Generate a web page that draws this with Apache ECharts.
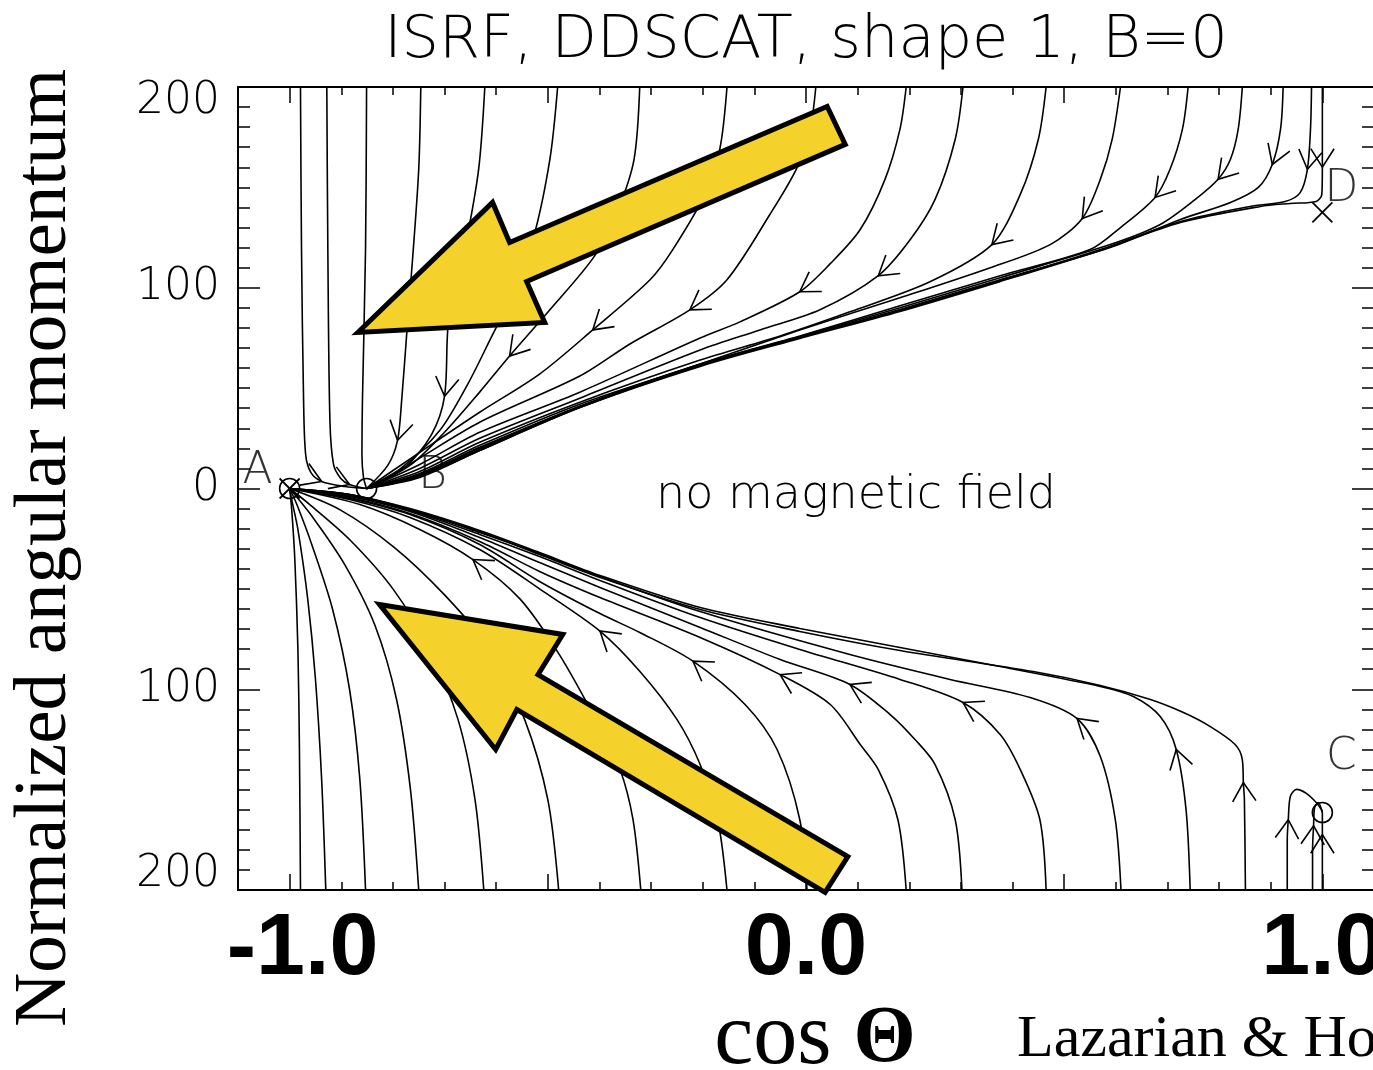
<!DOCTYPE html>
<html>
<head>
<meta charset="utf-8">
<script src="https://cdn.jsdelivr.net/npm/echarts@6/dist/echarts.min.js"></script>
<style>
  html, body { margin: 0; padding: 0; background: #fff; }
  #chart { width: 1373px; height: 1070px; }
</style>
</head>
<body>
<div id="chart"></div>
<script>
// Trajectories in the (cos Theta, normalised J) plane, listed in the direction of motion.
// Upper branch: J > 0, all flowing into the attractor point B.
const trajUp01 = [[-0.979,200],[-0.977,119],[-0.973,44],[-0.969,17],[-0.959,8],[-0.938,3.5],[-0.893,1],[-0.851,0]];
const trajUp02 = [[-0.928,200],[-0.926,119],[-0.922,34],[-0.915,12],[-0.901,5],[-0.884,2],[-0.851,0]];
const trajUp03 = [[-0.851,200],[-0.853,119],[-0.859,44],[-0.860,17],[-0.857,5.5],[-0.851,0]];
const trajUp04 = [[-0.746,200],[-0.750,159],[-0.762,114],[-0.773,78],[-0.783,44],[-0.791,24],[-0.810,11.5],[-0.851,0]];
const trajUp05 = [[-0.622,200],[-0.634,159],[-0.661,119],[-0.692,84],[-0.700,46],[-0.725,27],[-0.777,10.5],[-0.851,0]];
const trajUp06 = [[-0.481,200],[-0.496,164],[-0.529,124],[-0.574,94],[-0.612,74],[-0.655,52],[-0.709,29],[-0.787,9.5],[-0.851,0]];
const trajUp07 = [[-0.322,200],[-0.333,164],[-0.364,139],[-0.409,116],[-0.496,89],[-0.574,66],[-0.632,48],[-0.700,28],[-0.767,11.5],[-0.851,0]];
const trajUp08 = [[-0.153,200],[-0.167,169],[-0.196,146.5],[-0.258,119],[-0.302,104],[-0.413,79],[-0.516,57],[-0.632,38],[-0.748,18],[-0.851,0]];
const trajUp09 = [[0.019,200],[0.008,179],[-0.017,160],[-0.070,136.5],[-0.153,104],[-0.225,89],[-0.341,72],[-0.438,56],[-0.632,33],[-0.762,13],[-0.851,0]];
const trajUp10 = [[0.194,200],[0.182,179],[0.153,154],[0.105,129],[0.047,112],[-0.012,98],[-0.128,83],[-0.205,75],[-0.438,48],[-0.632,28],[-0.748,12],[-0.851,0]];
const trajUp11 = [[0.304,200],[0.289,174],[0.250,144],[0.202,124],[0.140,106],[0.027,89],[-0.089,79],[-0.205,69],[-0.438,45],[-0.632,25],[-0.748,10],[-0.851,0]];
const trajUp12 = [[0.465,200],[0.450,174],[0.415,146.5],[0.360,121.5],[0.240,103],[0.085,88],[-0.050,76],[-0.205,64],[-0.438,43],[-0.632,23],[-0.748,8.5],[-0.851,0]];
const trajUp13 = [[0.609,200],[0.593,174],[0.570,154],[0.535,134.5],[0.473,121.5],[0.357,110],[0.182,95],[-0.012,79],[-0.205,62],[-0.438,42],[-0.632,21.5],[-0.748,7.5],[-0.851,0]];
const trajUp14 = [[0.740,200],[0.729,179],[0.705,159],[0.676,145],[0.609,130],[0.550,119],[0.376,106],[0.182,91],[-0.012,76],[-0.205,62],[-0.438,41],[-0.632,20.5],[-0.748,7],[-0.851,0]];
const trajUp15 = [[0.845,200],[0.837,179],[0.822,164],[0.798,154],[0.754,144],[0.686,131.5],[0.589,121.5],[0.376,105],[0.182,90],[-0.012,75.7],[-0.205,61.8],[-0.438,40.8],[-0.632,20],[-0.748,6.5],[-0.851,0]];
const trajUp16 = [[0.924,200],[0.919,179],[0.903,161.4],[0.876,150],[0.822,142.5],[0.725,134],[0.589,120],[0.376,104],[0.182,89.2],[-0.012,75.2],[-0.205,61.3],[-0.438,40.8],[-0.632,19.4],[-0.748,6],[-0.851,0]];
const trajUp17 = [[0.979,200],[0.977,179],[0.971,159],[0.957,147.4],[0.928,143],[0.860,140.5],[0.725,133],[0.570,119],[0.376,103.6],[0.182,88.7],[-0.012,75.2],[-0.205,61.3],[-0.438,40.3],[-0.632,18.9],[-0.748,6],[-0.851,0]];
const trajUp18 = [[1.0,200],[1.0,160],[0.999,146.5],[0.988,143],[0.938,142],[0.880,140.5],[0.725,132.5],[0.570,118.6],[0.376,103.1],[0.182,88.2],[-0.012,74.7],[-0.205,60.8],[-0.438,40.3],[-0.632,18.9],[-0.748,5.5],[-0.851,0]];

// Lower branch: J < 0, flowing up into A (or into the point near C on the right).
const trajLow01 = [[-0.979,-200],[-0.981,-130],[-0.984,-80],[-0.990,-35],[-0.996,-10.5],[-1,0]];
const trajLow02 = [[-0.930,-200],[-0.938,-145],[-0.950,-95],[-0.965,-55],[-0.984,-20.4],[-0.996,-5.5],[-1,0]];
const trajLow03 = [[-0.853,-200],[-0.864,-145],[-0.884,-100],[-0.917,-60],[-0.957,-28],[-0.986,-8],[-1,0]];
const trajLow04 = [[-0.750,-200],[-0.766,-150],[-0.793,-105],[-0.835,-68],[-0.893,-38],[-0.955,-14.4],[-1,0]];
const trajLow05 = [[-0.624,-200],[-0.641,-155],[-0.674,-115],[-0.729,-80],[-0.800,-50],[-0.884,-25.4],[-0.961,-8],[-1,0]];
const trajLow06 = [[-0.479,-200],[-0.500,-155],[-0.545,-115],[-0.612,-80],[-0.700,-53],[-0.797,-29.4],[-0.903,-10.5],[-1,0]];
const trajLow07 = [[-0.320,-200],[-0.335,-165],[-0.360,-140],[-0.399,-119],[-0.477,-83],[-0.554,-55],[-0.645,-35.4],[-0.748,-20.4],[-0.864,-8],[-1,0]];
const trajLow08 = [[-0.153,-200],[-0.171,-165],[-0.205,-137.5],[-0.250,-115],[-0.322,-91],[-0.399,-71],[-0.516,-50],[-0.632,-30.4],[-0.767,-14.4],[-0.884,-5.5],[-1,0]];
const trajLow09 = [[0.002,-200],[-0.012,-165],[-0.056,-130],[-0.118,-107.6],[-0.219,-86],[-0.322,-71.7],[-0.399,-62.3],[-0.516,-46.3],[-0.632,-27.9],[-0.767,-13],[-0.884,-5],[-1,0]];
const trajLow10 = [[0.194,-200],[0.178,-165],[0.140,-140],[0.105,-127.5],[0.047,-107.6],[-0.050,-92.7],[-0.205,-74.2],[-0.399,-54.3],[-0.516,-41.3],[-0.632,-26.4],[-0.767,-12.5],[-0.884,-4.5],[-1,0]];
const trajLow11 = [[0.302,-200],[0.289,-165],[0.250,-137.5],[0.211,-125],[0.163,-112.6],[0.085,-97.6],[-0.050,-85.2],[-0.205,-69.2],[-0.399,-49.3],[-0.516,-36.9],[-0.632,-24.4],[-0.767,-11.5],[-0.884,-4],[-1,0]];
const trajLow12 = [[0.465,-200],[0.453,-165],[0.415,-140],[0.376,-122.5],[0.304,-106.6],[0.182,-95.1],[-0.012,-80.2],[-0.205,-64.3],[-0.399,-45.8],[-0.516,-33.9],[-0.632,-22.9],[-0.767,-11],[-0.884,-3.5],[-1,0]];
const trajLow13 = [[0.610,-200],[0.599,-165],[0.570,-133.5],[0.525,-114.6],[0.434,-104.1],[0.279,-95.1],[0.085,-82.7],[-0.205,-61.3],[-0.399,-43.8],[-0.516,-32.4],[-0.632,-21.9],[-0.767,-10.5],[-0.884,-3],[-1,0]];
const trajLow14 = [[0.744,-200],[0.736,-160],[0.717,-130],[0.686,-113.6],[0.634,-103.6],[0.570,-98.6],[0.376,-88.7],[0.182,-79.2],[-0.012,-69.7],[-0.205,-59.3],[-0.399,-43.3],[-0.516,-31.9],[-0.632,-20.9],[-0.767,-10],[-0.884,-3],[-1,0]];
const trajLow15 = [[0.851,-200],[0.849,-155],[0.847,-146.5],[0.845,-135],[0.831,-127.5],[0.783,-118.6],[0.731,-111.6],[0.667,-105.1],[0.570,-98.1],[0.440,-91.2],[0.182,-80.7],[-0.012,-71.2],[-0.205,-60.3],[-0.399,-44.3],[-0.516,-32.9],[-0.632,-21.4],[-0.767,-10.5],[-0.884,-3],[-1,0]];
const trajLow16 = [[0.932,-200],[0.932,-175],[0.934,-165],[0.938,-153.4],[0.950,-149.9],[0.969,-151.9],[0.988,-156.4],[0.998,-159.9],[1.0,-161.4]];
const trajLow17 = [[0.981,-200],[0.981,-180],[0.983,-168],[0.985,-159],[0.992,-156.4],[1.0,-161.4]];
const trajLow18 = [[1.0,-200],[1.0,-180],[1.0,-172.4],[1.0,-161.4]];

// Index of the point on each trajectory that carries a direction arrow (-1: none)
const upArrowAt  = [5, 5, -1, 5, 4, -1, 5, 5, 5, 5, 4, 3, 3, 3, 3, 2, 2, 1];
const lowArrowAt = [-1, -1, -1, -1, -1, -1, 6, 5, 4, 5, 5, 4, 3, 2, 2, 2, 2, 2];

// Special points
const circlePoints = [[-1, 0], [-0.851, 0], [1.0, -161.4]];
const crossPoints  = [[-1, 0], [1.0, 137.5]];
const pointLabels  = [['A', -1, 0], ['B', -0.851, 0], ['C', 1.0, -161.4], ['D', 1.0, 137.5]];

// Highlight arrows (outline vertices in data units)
const bigArrowUpper = [[-0.868,77.7],[-0.607,142.5],[-0.574,122.5],[0.041,190.3],[0.076,171.4],[-0.541,103.1],[-0.506,82.7]];
const bigArrowLower = [[-0.826,-57.8],[-0.471,-72.7],[-0.519,-92.7],[0.081,-183.3],[0.037,-201.2],[-0.560,-110.1],[-0.601,-130.0]];

// Axis ticks and labels
const xMinorTicks = [-1.1,-1.0,-0.9,-0.8,-0.7,-0.6,-0.5,-0.4,-0.3,-0.2,-0.1,0,0.1,0.2,0.3,0.4,0.5,0.6,0.7,0.8,0.9,1.0,1.1];
const xMajorTicks = [-1.0, -0.5, 0, 0.5, 1.0];
const xTickLabels = [-1.0, 0, 1.0];
const yTickLabels = [-200, -100, 0, 100, 200];

const upperTrajs = [trajUp01,trajUp02,trajUp03,trajUp04,trajUp05,trajUp06,trajUp07,trajUp08,trajUp09,
                    trajUp10,trajUp11,trajUp12,trajUp13,trajUp14,trajUp15,trajUp16,trajUp17,trajUp18];
const lowerTrajs = [trajLow01,trajLow02,trajLow03,trajLow04,trajLow05,trajLow06,trajLow07,trajLow08,trajLow09,
                    trajLow10,trajLow11,trajLow12,trajLow13,trajLow14,trajLow15,trajLow16,trajLow17,trajLow18];

const INK = '#000';
const THIN = "'DejaVu Sans ExtraLight', 'DejaVu Sans Light', Lato, sans-serif";
const SERIF = "'Liberation Serif', 'DejaVu Serif', serif";
const BOLD_SANS = "'Liberation Sans Narrow', 'Liberation Sans', Arial, sans-serif";

function arrowItems(trajs, at) {
  const out = [];
  trajs.forEach((t, i) => {
    const k = at[i];
    if (k < 1 || k >= t.length - 1) return;
    out.push([t[k][0], t[k][1], t[k-1][0], t[k-1][1], t[k+1][0], t[k+1][1]]);
  });
  return out;
}
const arrowData = arrowItems(upperTrajs, upArrowAt).concat(arrowItems(lowerTrajs, lowArrowAt));

const lineSeries = upperTrajs.concat(lowerTrajs).map(t => ({
  type: 'line', data: t, xAxisIndex: 0, yAxisIndex: 0,
  smooth: 0.3, symbol: 'none', silent: true, z: 2,
  lineStyle: { color: INK, width: 1.6 }
}));

function xAxisDef(pos, major) {
  return {
    type: 'value', min: -1.1, max: 1.1, position: pos,
    axisLine: { show: !major, onZero: false, lineStyle: { color: INK, width: 2 } },
    axisTick: { show: true, inside: true, length: major ? 16 : 8,
      customValues: major ? xMajorTicks : xMinorTicks,
      lineStyle: { color: INK, width: 1.5 } },
    axisLabel: (major && pos === 'bottom') ? {
      show: true, customValues: xTickLabels, margin: 16,
      formatter: v => v < 0 ? '{neg|' + v.toFixed(1) + '}' : v.toFixed(1),
      fontFamily: BOLD_SANS, fontWeight: 'bold', fontSize: 88, color: INK,
      rich: { neg: { fontFamily: BOLD_SANS, fontWeight: 'bold', fontSize: 88, color: INK, padding: [0, 0, 0, 26] } }
    } : { show: false },
    splitLine: { show: false }
  };
}
function yAxisDef(pos, major) {
  return {
    type: 'value', min: -200, max: 200, interval: major ? 100 : 10, position: pos,
    axisLine: { show: !major, onZero: false, lineStyle: { color: INK, width: 2 } },
    axisTick: { show: true, inside: true, length: major ? 22 : 12,
      lineStyle: { color: INK, width: 1.5 } },
    axisLabel: (major && pos === 'left') ? {
      show: true, customValues: yTickLabels, margin: 18,
      formatter: v => String(Math.abs(v)),
      verticalAlignMinLabel: 'bottom', verticalAlignMaxLabel: 'top', lineHeight: 30,
      fontFamily: THIN, fontWeight: 300, fontSize: 44, color: INK
    } : { show: false },
    splitLine: { show: false }
  };
}

const chart = echarts.init(document.getElementById('chart'), null, { renderer: 'canvas' });
chart.setOption({
  animation: false,
  backgroundColor: '#fff',
  grid: { left: 238, top: 87, width: 1136, height: 803, containLabel: false, outerBoundsMode: 'none' },
  xAxis: [xAxisDef('bottom', false), xAxisDef('bottom', true), xAxisDef('top', false), xAxisDef('top', true)],
  yAxis: [yAxisDef('left', false), yAxisDef('left', true), yAxisDef('right', false), yAxisDef('right', true)],
  series: lineSeries.concat([
    {
      // direction arrowheads along trajectories
      type: 'custom', xAxisIndex: 0, yAxisIndex: 0, silent: true, z: 3,
      data: arrowData, encode: { x: 0, y: 1 },
      renderItem: (params, api) => {
        const p = api.coord([api.value(0), api.value(1)]);
        const a = api.coord([api.value(2), api.value(3)]);
        const b = api.coord([api.value(4), api.value(5)]);
        let dx = b[0] - a[0], dy = b[1] - a[1];
        const n = Math.hypot(dx, dy) || 1; dx /= n; dy /= n;
        const L = 22, ang = 32 * Math.PI / 180, c = Math.cos(ang), s = Math.sin(ang);
        const bx = -dx, by = -dy;
        const l1 = [p[0] + L * (bx * c - by * s), p[1] + L * (bx * s + by * c)];
        const l2 = [p[0] + L * (bx * c + by * s), p[1] + L * (-bx * s + by * c)];
        return { type: 'polyline', shape: { points: [l1, p, l2] },
                 style: { stroke: INK, lineWidth: 1.6, fill: null } };
      }
    },
    {
      // open circles at the attractor points
      type: 'custom', xAxisIndex: 0, yAxisIndex: 0, silent: true, z: 3, clip: false,
      data: circlePoints, encode: { x: 0, y: 1 },
      renderItem: (params, api) => {
        const p = api.coord([api.value(0), api.value(1)]);
        return { type: 'circle', shape: { cx: p[0], cy: p[1], r: 10 },
                 style: { stroke: INK, lineWidth: 1.6, fill: null } };
      }
    },
    {
      // crosses at the repellor points
      type: 'custom', xAxisIndex: 0, yAxisIndex: 0, silent: true, z: 3, clip: false,
      data: crossPoints, encode: { x: 0, y: 1 },
      renderItem: (params, api) => {
        const p = api.coord([api.value(0), api.value(1)]);
        const h = 10;
        return { type: 'group', children: [
          { type: 'line', shape: { x1: p[0] - h, y1: p[1] - h, x2: p[0] + h, y2: p[1] + h }, style: { stroke: INK, lineWidth: 1.8 } },
          { type: 'line', shape: { x1: p[0] - h, y1: p[1] + h, x2: p[0] + h, y2: p[1] - h }, style: { stroke: INK, lineWidth: 1.8 } }
        ] };
      }
    },
    {
      // point names
      type: 'scatter', xAxisIndex: 0, yAxisIndex: 0, silent: true, z: 4, clip: false,
      symbolSize: 1, itemStyle: { color: 'rgba(0,0,0,0)' },
      data: pointLabels.map(d => ({ name: d[0], value: [d[1], d[2]] })),
      label: {
        show: true, position: 'inside', formatter: p => p.name,
        fontFamily: THIN, fontWeight: 300, fontSize: 44, color: INK
      },
      labelLayout: p => {
        const off = { A: [-32, -17], B: [66, -12], C: [19, -55], D: [19, -23] }[pointLabels[p.dataIndex][0]];
        return { dx: off[0], dy: off[1] };
      }
    },
    {
      // yellow highlight arrows
      type: 'custom', xAxisIndex: 0, yAxisIndex: 0, silent: true, z: 10, clip: false,
      data: [[bigArrowUpper[0][0], bigArrowUpper[0][1], 0], [bigArrowLower[0][0], bigArrowLower[0][1], 1]],
      encode: { x: 0, y: 1 },
      renderItem: (params, api) => {
        const verts = api.value(2) === 0 ? bigArrowUpper : bigArrowLower;
        return { type: 'polygon', shape: { points: verts.map(v => api.coord(v)) },
                 style: { fill: '#F4D22B', stroke: INK, lineWidth: 5, lineJoin: 'miter' } };
      }
    }
  ]),
  graphic: [
    { type: 'text', x: 806, y: 42, silent: true,
      style: { text: 'ISRF, DDSCAT, shape 1, B=0', fontFamily: THIN, fontWeight: 300, fontSize: 59,
               fill: INK, textAlign: 'center', textVerticalAlign: 'middle' } },
    { type: 'text', x: 856, y: 496, silent: true,
      style: { text: 'no magnetic field', fontFamily: THIN, fontWeight: 300, fontSize: 46,
               fill: INK, textAlign: 'center', textVerticalAlign: 'middle' } },
    { type: 'text', x: 45, y: 548, rotation: Math.PI / 2, silent: true,
      style: { text: 'Normalized angular momentum', fontFamily: SERIF, fontSize: 75,
               fill: INK, textAlign: 'center', textVerticalAlign: 'middle' } },
    { type: 'text', x: 815, y: 1040, silent: true,
      style: { text: '{a|cos }{b|Θ}', textAlign: 'center', textVerticalAlign: 'middle',
               rich: { a: { fontFamily: SERIF, fontSize: 88, fill: INK, color: INK },
                       b: { fontFamily: SERIF, fontSize: 80, fontWeight: 'bold', fill: INK, color: INK } } } },
    { type: 'text', x: 1017, y: 1040, silent: true,
      style: { text: 'Lazarian & Hoang', fontFamily: SERIF, fontSize: 60,
               fill: INK, textAlign: 'left', textVerticalAlign: 'middle' } }
  ]
});
</script>
</body>
</html>
